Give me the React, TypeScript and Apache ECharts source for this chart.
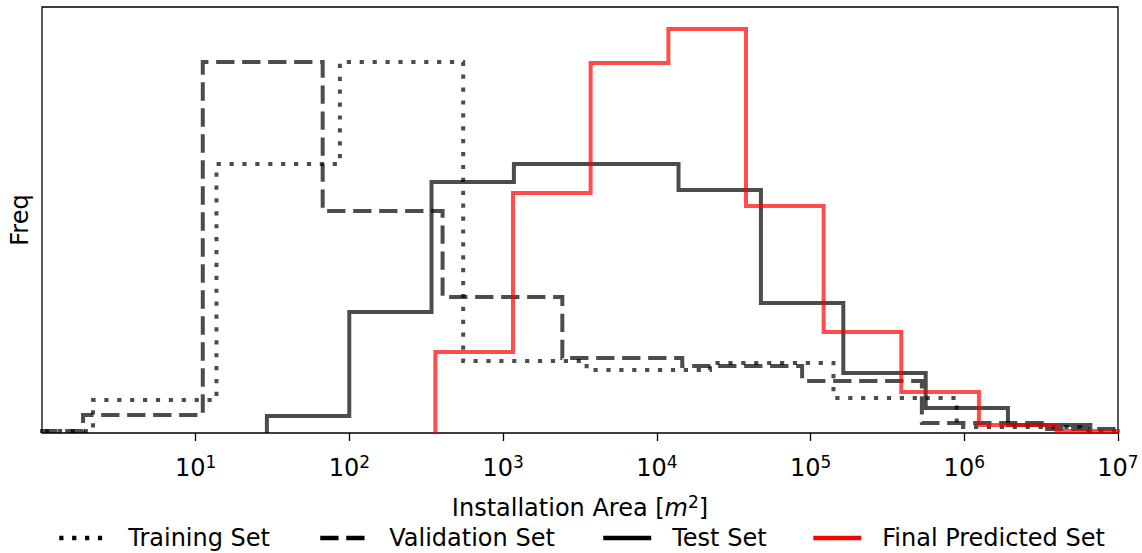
import React, { useEffect, useRef } from "react";
import * as echarts from "echarts";

const FONT = "DejaVu Sans";

const seriesNames = ["Training Set", "Validation Set", "Test Set", "Final Predicted Set"];

// Histogram bin edges, given as log10 of the installation area [m²]
const trainingEdgesLog10 = [-0.471, 0.332, 1.135, 1.938, 2.74, 3.543, 4.346, 5.149, 5.951, 6.754, 7.557];
const trainingFreq = [2, 33, 269, 371, 72, 63, 70, 35, 6, 2];

const validationEdgesLog10 = [-0.513, 0.267, 1.046, 1.826, 2.606, 3.385, 4.165, 4.945, 5.724, 6.504, 7.284];
const validationFreq = [2, 18, 371, 222, 136, 75, 67, 52, 10, 4];

const testEdgesLog10 = [1.463, 1.999, 2.534, 3.07, 3.606, 4.141, 4.677, 5.213, 5.749, 6.284, 6.82];
const testFreq = [17, 121, 251, 269, 269, 243, 130, 60, 25, 8];

const predictedEdgesLog10 = [2.559, 3.064, 3.569, 4.075, 4.58, 5.085, 5.59, 6.095, 6.6, 7.105, 7.61];
const predictedFreq = [81, 240, 370, 404, 227, 101, 41, 8, 2, 1];

const xTickValues = [10, 100, 1000, 10000, 100000, 1000000, 10000000];

function stepPoints(edgesLog10: number[], freq: number[]) {
  const edges = edgesLog10.map((e) => Math.pow(10, e));
  const pts: number[][] = [[edges[0], 0]];
  freq.forEach((f, i) => {
    pts.push([edges[i], f]);
    pts.push([edges[i + 1], f]);
  });
  pts.push([edges[edges.length - 1], 0]);
  return pts;
}

const dark = "rgba(0,0,0,0.7)";
const red = "rgba(255,0,0,0.7)";
const LW = 4;
const dotted: number[] = [4.2, 8.7];
const dashed: number[] = [18.3, 7.7];
const FS = 24;

export default function App() {
  const ref = useRef<HTMLDivElement>(null);
  useEffect(() => {
    if (!ref.current) return;
    const chart = echarts.init(ref.current, null, { renderer: "svg" });

    const defs = [
      { name: seriesNames[0], edges: trainingEdgesLog10, freq: trainingFreq, color: dark, type: dotted, legendColor: "#000" },
      { name: seriesNames[1], edges: validationEdgesLog10, freq: validationFreq, color: dark, type: dashed, legendColor: "#000" },
      { name: seriesNames[2], edges: testEdgesLog10, freq: testFreq, color: dark, type: "solid", legendColor: "#000" },
      { name: seriesNames[3], edges: predictedEdgesLog10, freq: predictedFreq, color: red, type: "solid", legendColor: "#ff0000" },
    ];
    const legendLefts = [57, 318, 601, 811];

    chart.setOption({
      animation: false,
      grid: {
        left: 42,
        right: 24,
        top: 7,
        bottom: 120,
        show: true,
        borderColor: "#000",
        borderWidth: 1.3,
        backgroundColor: "transparent",
        containLabel: false,
        outerBoundsMode: "none",
      },
      legend: defs.map((d, i) => ({
        data: [
          {
            name: d.name,
            lineStyle: { color: d.legendColor, width: 4.5, type: d.type, cap: "butt" },
            itemStyle: { opacity: 0, color: "transparent", borderWidth: 0 },
          },
        ],
        left: legendLefts[i],
        top: 526,
        padding: 0,
        itemWidth: 48,
        itemHeight: 14,
        selectedMode: false,
        textStyle: { fontFamily: FONT, fontSize: FS, color: "#000", padding: [0, 0, 0, 16] },
      })),
      xAxis: {
        type: "log",
        logBase: 10,
        min: 1,
        max: 1e7,
        name: "{n|Installation Area [}{i|m}{s|2}{n|]}",
        nameLocation: "middle",
        nameGap: 60,
        nameTextStyle: {
          rich: {
            n: { fontFamily: FONT, fontSize: FS, color: "#000", lineHeight: 30 },
            i: { fontFamily: FONT, fontSize: FS, fontStyle: "italic", color: "#000", lineHeight: 30 },
            s: { fontFamily: FONT, fontSize: 17, color: "#000", verticalAlign: "top", lineHeight: 15 },
          },
        },
        axisLine: { show: false },
        splitLine: { show: false },
        minorTick: { show: false },
        axisTick: {
          show: true,
          length: 8,
          customValues: xTickValues,
          lineStyle: { color: "#000", width: 1.3 },
        },
        axisLabel: {
          customValues: xTickValues,
          margin: 20,
          formatter: (v: number) => `{b|10}{s|${Math.round(Math.log10(v))}}`,
          rich: {
            b: { fontFamily: FONT, fontSize: FS, color: "#000", lineHeight: 30 },
            s: { fontFamily: FONT, fontSize: 17, color: "#000", verticalAlign: "top", lineHeight: 15 },
          },
        },
      },
      yAxis: {
        type: "value",
        min: 0,
        max: 426,
        name: "Freq",
        nameLocation: "middle",
        nameGap: 10,
        nameTextStyle: { fontFamily: FONT, fontSize: FS, color: "#000" },
        axisLine: { show: false },
        axisTick: { show: false },
        axisLabel: { show: false },
        splitLine: { show: false },
      },
      series: defs.map((d) => ({
        name: d.name,
        type: "line",
        data: stepPoints(d.edges, d.freq),
        symbol: "none",
        showSymbol: false,
        clip: true,
        silent: true,
        itemStyle: { color: d.color },
        lineStyle: { color: d.color, width: LW, type: d.type, cap: "butt", join: "miter" },
      })),
    });
    return () => chart.dispose();
  }, []);

  return (
    <div
      ref={ref}
      style={{ position: "fixed", left: 0, top: 0, width: 1142, height: 553, background: "#fff" }}
    />
  );
}
